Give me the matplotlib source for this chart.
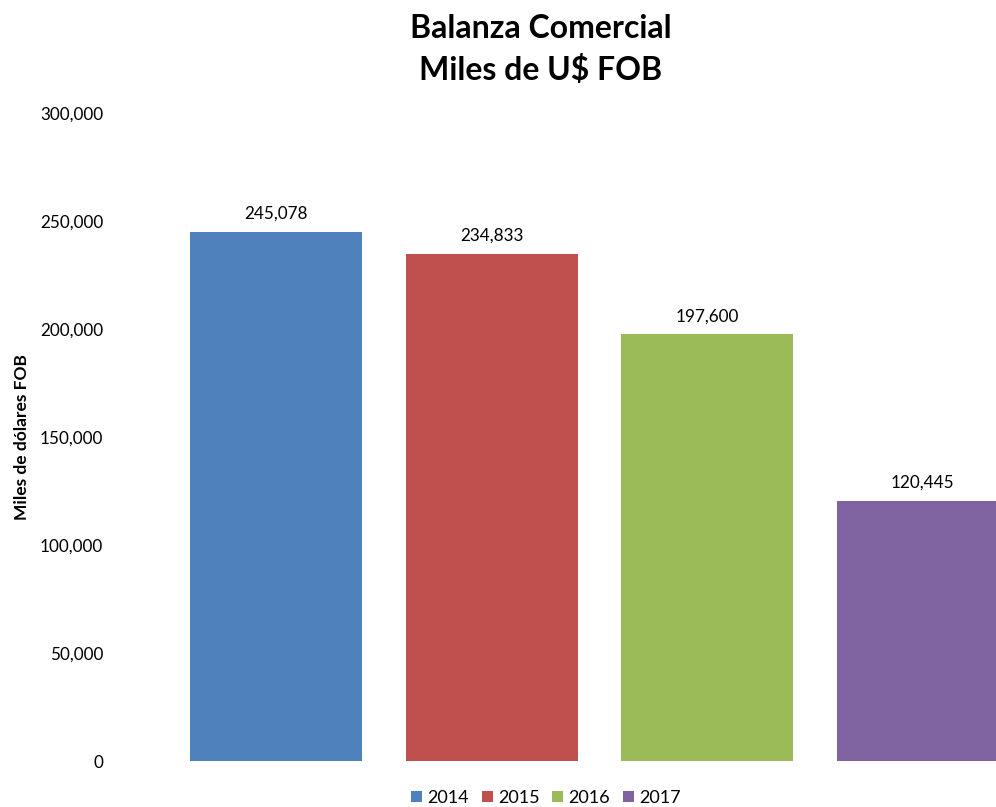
import matplotlib
matplotlib.use("Agg")
import matplotlib.pyplot as plt
from matplotlib.patches import Patch
from matplotlib.ticker import FuncFormatter

plt.rcParams['font.family'] = ['Lato', 'DejaVu Sans']

years = ["2014", "2015", "2016", "2017"]
values = [245078, 234833, 197600, 120445]
colors = ["#4F81BD", "#C0504D", "#9BBB59", "#8064A2"]
yticks = [0, 50000, 100000, 150000, 200000, 250000, 300000]

W, H = 996, 807
fig = plt.figure(figsize=(W / 100, H / 100), dpi=100)
ax = fig.add_axes([168.5 / W, (H - 761) / H, 862 / W, 648 / H])

x = list(range(len(years)))
bars = ax.bar(x, values, width=0.80, color=colors)
ax.set_xlim(-0.5, len(years) - 0.5)
ax.set_ylim(0, 300000)
ax.set_yticks(yticks)
ax.yaxis.set_major_formatter(FuncFormatter(lambda v, p: f"{int(v):,}"))
ax.set_xticks([])
for s in ax.spines.values():
    s.set_visible(False)
ax.tick_params(axis='y', length=0, pad=47, labelsize=12.3, labelcolor="#000000")

for xi, v in zip(x, values):
    ax.annotate(f"{v:,}", (xi, v), xytext=(0, 7), textcoords="offset points",
                ha="center", va="bottom", fontsize=12.3)

fig.text(541 / W, 1 - 28 / H, "Balanza Comercial", ha="center", va="center",
         fontsize=23, fontweight="bold")
fig.text(541 / W, 1 - 70 / H, "Miles de U$ FOB", ha="center", va="center",
         fontsize=23, fontweight="bold")
fig.text(22 / W, 1 - 437 / H, "Miles de dólares FOB", rotation=90, ha="center",
         va="center", fontsize=12.5, fontweight="bold")

handles = [Patch(facecolor=c, label=y) for c, y in zip(colors, years)]
fig.legend(handles=handles, loc="center", bbox_to_anchor=(546 / W, 9 / H), ncol=4,
           frameon=False, fontsize=13, handlelength=0.6, handleheight=0.6,
           handletextpad=0.3, columnspacing=0.7)

fig.savefig("out.png", dpi=100)
